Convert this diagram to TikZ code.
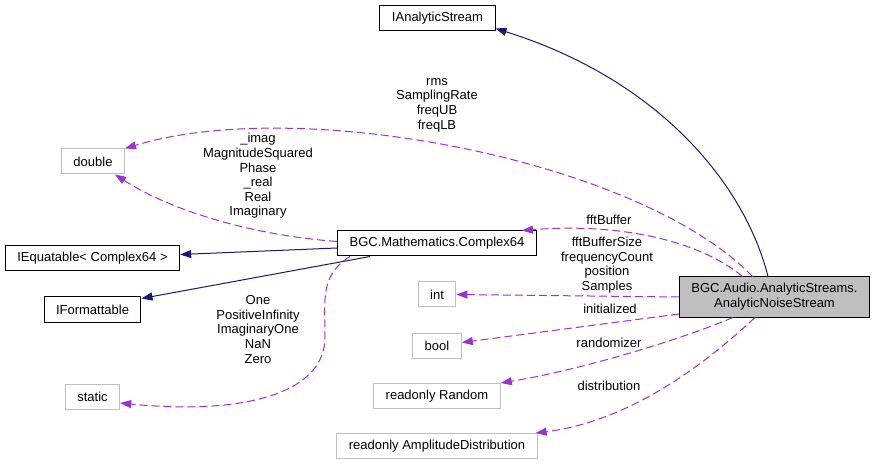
\documentclass[tikz,border=0pt]{standalone}
\usepackage{fontspec}
\setmainfont{Liberation Sans}
\usepackage{xcolor}
\usetikzlibrary{arrows.meta}
\definecolor{edgeblue}{HTML}{191970}
\definecolor{edgepurple}{HTML}{9A32CD}
\definecolor{boxgray}{HTML}{BFBFBF}

\begin{document}
\begin{tikzpicture}[x=1pt,y=-1pt,font=\fontsize{13}{14.6}\selectfont,
  cls/.style={draw=black,line width=1pt,fill=white,minimum height=25pt,inner xsep=12pt,inner ysep=0pt},
  ext/.style={cls,draw=boxgray},
  inh/.style={edgeblue,line width=1pt,-{Triangle[length=11pt,width=8pt]}},
  usage/.style={edgepurple,line width=1pt,dash pattern=on 8pt off 4pt,-{Triangle[length=11pt,width=8pt]}},
  lbl/.style={align=center,inner sep=0pt}]
\path[use as bounding box,fill=white] (0,0) rectangle (876,465);

\node[cls] (ia) at (437.5,18.5) {IAnalyticStream};
\node[ext] (dbl) at (93,161.5) {double};
\node[cls] (cplx) at (437,243.5) {BGC.Mathematics.Complex64};
\node[cls] (ieq) at (92.5,258.5) {IEquatable< Complex64 >};
\node[cls] (ifm) at (92.5,309.5) {IFormattable};
\node[ext] (st) at (92.5,397) {static};
\node[ext] (int) at (437,294.5) {int};
\node[ext] (bool) at (437,345.5) {bool};
\node[ext] (rnd) at (437,396) {readonly Random};
\node[ext] (amp) at (437,446) {readonly AmplitudeDistribution};
\node[cls,fill=boxgray,minimum height=40pt,align=center,font=\fontsize{13}{15}\selectfont]
  (nz) at (774.5,297) {BGC.Audio.AnalyticStreams.\\AnalyticNoiseStream};

\draw[inh] ([xshift=-6.5pt]nz.north) .. controls (745,185) and (660,80) .. ([yshift=3pt]ia.south east);
\draw[inh] ([yshift=-4.5pt]cplx.west) -- ([yshift=4pt]ieq.east);
\draw[inh] ([xshift=-67pt]cplx.south) -- ([yshift=-2pt]ifm.north east);

\draw[usage] ([xshift=-22pt]nz.north) .. controls (640,160) and (300,95) .. (dbl.north east);
\draw[usage] ([yshift=2pt]cplx.west) .. controls (250,235) and (170,210) .. ([xshift=-10pt]dbl.south east);
\draw[usage] ([xshift=-87pt]cplx.south) .. controls (320,275) and (325,300) .. (325,335)
  .. controls (327,395) and (240,415) .. ([yshift=-6pt]st.east);
\draw[usage] ([xshift=-32pt]nz.north) .. controls (705,245) and (630,222) .. ([xshift=-15pt]cplx.north east);
\draw[usage] (nz.west) -- (int.east);
\draw[usage] ([yshift=-17pt]nz.west) -- ([yshift=3pt]bool.east);
\draw[usage] ([xshift=-41.5pt]nz.south) .. controls (680,340) and (580,370) .. (rnd.north east);
\draw[usage] ([xshift=-19.5pt]nz.south) .. controls (720,350) and (640,420) .. ([xshift=-2pt]amp.north east);

\node[lbl] (l1) at (437,105) {rms\\SamplingRate\\freqUB\\freqLB};
\node[lbl] (l2) at (258,176) {\_imag\\MagnitudeSquared\\Phase\\\_real\\Real\\Imaginary};
\node[lbl] (l3) at (609,220) {fftBuffer};
\node[lbl] (l4) at (607,265) {fftBufferSize\\frequencyCount\\position\\Samples};
\node[lbl] (l5) at (610,309) {initialized};
\node[lbl] (l6) at (609,343) {randomizer};
\node[lbl] (l7) at (609,386) {distribution};
\node[lbl] (l8) at (258,329.5) {One\\PositiveInfinity\\ImaginaryOne\\NaN\\Zero};
\end{tikzpicture}
\end{document}
